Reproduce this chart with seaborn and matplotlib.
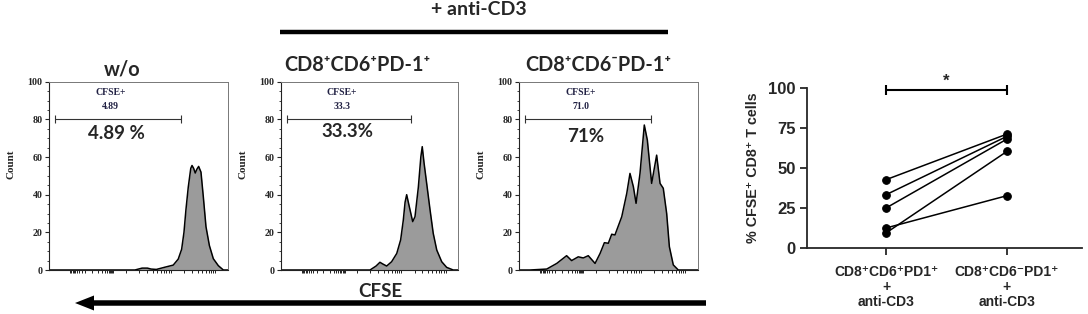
import numpy as np
import pandas as pd
import matplotlib
matplotlib.use('Agg')
import matplotlib.pyplot as plt
from matplotlib.ticker import MultipleLocator, FixedLocator, NullFormatter
from matplotlib.patches import FancyArrow
import seaborn as sns

# CFSE histograms (x = position on CFSE axis, 0-1000)
wo_x = [0, 480, 500, 520, 550, 570, 600, 648, 694, 722, 741, 754, 765, 778, 792, 799, 808, 817, 826, 836, 849, 862, 877, 896, 918, 946, 974, 1000]
wo_count = [0, 0, 0.5, 1, 1, 0.5, 0.3, 1.5, 2.6, 5.8, 11, 20, 32, 44, 54, 55.5, 54, 51.5, 53.5, 55, 52, 39, 23, 13, 6, 2.3, 0, 0]

pos_x = [0, 503, 537, 559, 575, 597, 625, 654, 676, 691, 701, 710, 725, 744, 757, 776, 790, 798, 808, 823, 842, 860, 880, 908, 936, 973, 1000]
pos_count = [0, 0, 2.1, 4.1, 3.2, 2.1, 4.4, 8.8, 16, 26.5, 36, 40, 33.6, 25.7, 28.3, 44, 60, 65.5, 57, 46, 32, 19.5, 10.6, 4.4, 1.4, 0, 0]

neg_x = [0, 61, 155, 211, 266, 294, 331, 359, 387, 425, 453, 477, 499, 518, 536, 574, 602, 620, 639, 654, 676, 700, 717, 741, 769, 788, 806, 825, 840, 862, 890, 1000]
neg_count = [0, 0, 0.5, 3.5, 7.6, 5, 7, 6.4, 7.6, 3.5, 8.8, 14.5, 14.2, 19, 18.6, 28.3, 40.7, 51.3, 44.2, 35.4, 51.3, 77, 69, 46, 61, 46, 43.4, 30, 12.4, 2.7, 0, 0]

hist_titles = ['w/o', 'CD8⁺CD6⁺PD-1⁺', 'CD8⁺CD6⁻PD-1⁺']
gate_values = ['4.89', '33.3', '71.0']
big_labels = ['4.89 %', '33.3%', '71%']
gate_range = [33, 735]

# paired data, right panel
groups = ['CD8⁺CD6⁺PD1⁺\n+\nanti-CD3', 'CD8⁺CD6⁻PD1⁺\n+\nanti-CD3']
pd1_cd6pos = [42.7, 33.3, 25.0, 12.5, 9.4]
pd1_cd6neg = [71.2, 69.8, 68.1, 32.7, 60.4]

sns.set_style('ticks')
plt.rcParams['font.family'] = ['Lato', 'DejaVu Sans']
plt.rcParams['axes.unicode_minus'] = False

W, H = 1088, 314
fig = plt.figure(figsize=(W / 100, H / 100), dpi=100)

def fbox(left, top, right, bottom):
    return [left / W, 1 - bottom / H, (right - left) / W, (bottom - top) / H]

serif = ['Liberation Serif', 'DejaVu Serif']
sans_bold = ['Lato', 'DejaVu Sans']
arial = ['Liberation Sans', 'DejaVu Sans']

hist_boxes = [(49, 81.7, 228, 270), (281, 81.7, 458, 270), (519, 81.7, 698, 270)]
traces = [(wo_x, wo_count), (pos_x, pos_count), (neg_x, neg_count)]
big_y = [72.5, 73.5, 71]

# tick marks along the (biexponential) CFSE axis
xt = []
for start in [430, 680]:
    xt += [start + 250 * np.log10(k) for k in range(1, 11)]
xt += [240 + 120 * np.log10(k) for k in range(1, 11)]
xt += [240 - 120 * np.log10(k) for k in range(2, 11)]
xt = sorted(set(np.round(xt, 1)))

for i, box in enumerate(hist_boxes):
    ax = fig.add_axes(fbox(*box))
    x, c = traces[i]
    ax.fill_between(x, c, color='#9b9b9b', lw=0)
    sns.lineplot(x=x, y=c, color='black', lw=1.1, ax=ax)
    ax.set_xlim(0, 1000)
    ax.set_ylim(0, 100)
    ax.yaxis.set_major_locator(MultipleLocator(20))
    ax.yaxis.set_minor_locator(MultipleLocator(5))
    ax.xaxis.set_major_locator(FixedLocator(xt))
    ax.xaxis.set_major_formatter(NullFormatter())
    ax.tick_params(axis='x', length=2.5, width=0.7, color='#222222')
    ax.tick_params(axis='y', which='major', length=3, width=0.8, pad=1.5)
    ax.tick_params(axis='y', which='minor', length=1.5, width=0.6)
    for lab in ax.get_yticklabels():
        lab.set_family(serif)
        lab.set_fontweight('bold')
        lab.set_fontsize(7.2)
    for s in ['top', 'right']:
        ax.spines[s].set_color('#777777')
        ax.spines[s].set_linewidth(0.7)
    for s in ['left', 'bottom']:
        ax.spines[s].set_color('#222222')
        ax.spines[s].set_linewidth(0.8)
    ax.set_xlabel('')
    ax.set_ylabel('')
    ax.text(-0.215, 0.56, 'Count', transform=ax.transAxes, rotation=90,
            ha='center', va='center', family=serif, fontweight='bold', fontsize=8)
    # gate
    ax.plot(gate_range, [80, 80], color='#333333', lw=0.8, marker='|', ms=6, mew=0.8)
    ax.text(345, 94, 'CFSE+', ha='center', va='center', family=serif,
            fontweight='bold', fontsize=7, color='#222244')
    ax.text(345, 86.7, gate_values[i], ha='center', va='center', family=serif,
            fontweight='bold', fontsize=7, color='#222244')
    ax.text(375, big_y[i], big_labels[i], ha='center', va='center', family=sans_bold,
            fontweight='bold', fontsize=13.5)

# right panel: paired dots
df = pd.DataFrame({
    'donor': list(range(len(pd1_cd6pos))) * 2,
    'group': [0] * len(pd1_cd6pos) + [1] * len(pd1_cd6neg),
    'value': pd1_cd6pos + pd1_cd6neg,
})
ax = fig.add_axes(fbox(807, 88, 1082, 248))
sns.lineplot(data=df, x='group', y='value', units='donor', estimator=None,
             color='black', lw=1.1, marker='o', ms=5.5, mec='black', ax=ax, legend=False)
ax.set_xlim(-0.653, 1.62)
ax.set_ylim(0, 100)
ax.set_yticks([0, 25, 50, 75, 100])
ax.set_xticks([0, 1])
ax.set_xticklabels(groups, family=arial, fontweight='bold', fontsize=10, linespacing=1.1)
for lab in ax.get_yticklabels():
    lab.set_family(arial)
    lab.set_fontweight('bold')
    lab.set_fontsize(12)
ax.set_xlabel('')
ax.set_ylabel('% CFSE⁺ CD8⁺ T cells', family=arial, fontweight='bold', fontsize=10.3, labelpad=6)
ax.tick_params(axis='both', length=5, width=1.3, pad=3)
ax.tick_params(axis='x', pad=7)
sns.despine(ax=ax)
for s in ['left', 'bottom']:
    ax.spines[s].set_linewidth(1.3)
ax.plot([0, 1], [99, 99], color='black', lw=1.5, marker='|', ms=7, mew=1.5, clip_on=False)
ax.text(0.5, 104.5, '*', ha='center', va='center', fontsize=12, family=arial, fontweight='bold')

# overlay in pixel coordinates for titles and arrow
ov = fig.add_axes([0, 0, 1, 1], zorder=-1)
ov.set_xlim(0, W)
ov.set_ylim(H, 0)
ov.axis('off')
title_x = [122, 357, 598]
title_base = [76, 71, 71]
for t, tx, ty in zip(hist_titles, title_x, title_base):
    ov.text(tx, ty, t, ha='center', va='baseline', family=sans_bold,
            fontweight='bold', fontsize=14.3)
ov.text(479, 15, '+ anti-CD3', ha='center', va='baseline', family=sans_bold,
        fontweight='bold', fontsize=14)
ov.plot([280, 668], [32, 32], color='black', lw=3.2, solid_capstyle='butt')
ov.text(380, 297, 'CFSE', ha='center', va='baseline', family=sans_bold,
        fontweight='bold', fontsize=13.5)
ov.add_patch(FancyArrow(706, 303, -631, 0, width=5.5, head_width=15, head_length=19,
                        length_includes_head=True, color='black', lw=0))

fig.savefig('out.png', dpi=100)
